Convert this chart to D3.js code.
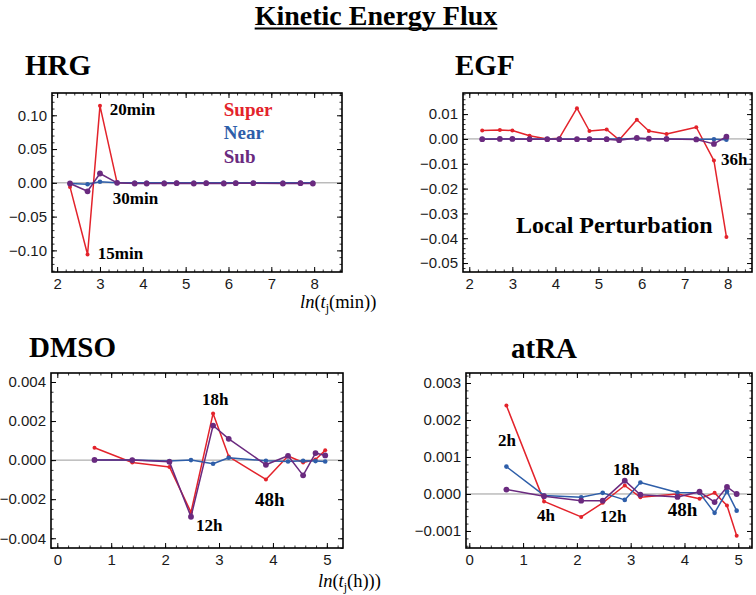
<!DOCTYPE html>
<html><head><meta charset="utf-8">
<script src="https://cdn.jsdelivr.net/npm/d3@7"></script>
<style>body{margin:0;background:#fff} svg{display:block}</style>
</head><body><svg id="c" width="756" height="595"></svg>
<script>
// ---------- DATA ----------
// x positions: ln(t) for time points in minutes (top row) and hours (bottom row)
const xMinutes = [2.30, 2.71, 3.00, 3.40, 3.81, 4.09, 4.50, 4.79, 5.19, 5.48, 5.89, 6.17, 6.58, 7.27, 7.68, 7.97];
const xHours   = [0.69, 1.39, 2.08, 2.48, 2.89, 3.18, 3.87, 4.28, 4.56, 4.79, 4.97];

const hrgSuper = [-0.006, -0.106, 0.114, 0.000, -0.0005, -0.0005, -0.0005, 0.000, -0.0005, -0.0005, -0.0005, -0.0005, -0.0005, -0.0005, -0.0005, -0.0005];
const hrgNear  = [-0.001, -0.002, 0.0015, 0.000, 0.000, 0.000, 0.000, 0.000, 0.000, 0.000, 0.000, 0.000, 0.000, 0.000, 0.000, 0.000];
const hrgSub   = [-0.001, -0.0125, 0.0138, 0.000, -0.001, -0.001, -0.001, -0.0005, -0.001, -0.0005, -0.001, -0.0005, -0.0005, -0.001, -0.0005, -0.001];

const egfSuper = [0.0034, 0.0036, 0.0034, 0.0013, 0.0000, 0.0003, 0.0124, 0.0032, 0.0038, -0.0004, 0.0077, 0.0032, 0.0020, 0.0047, -0.0087, -0.0395];
const egfNear  = [0.0000, 0.0000, 0.0000, 0.0000, 0.0000, 0.0000, 0.0000, 0.0000, 0.0000, 0.0000, 0.0002, 0.0001, 0.0000, -0.0001, -0.0001, -0.0003];
const egfSub   = [-0.0001, 0.0000, 0.0000, -0.0001, -0.0001, -0.0001, -0.0001, -0.0001, -0.0001, -0.0005, 0.0004, 0.0001, 0.0000, -0.0002, -0.0020, 0.0009];

const dmsoSuper = [0.00063, -0.00012, -0.00035, -0.00267, 0.00239, 0.00018, -0.00099, 0.00021, -0.00012, 0.00003, 0.00050];
const dmsoNear  = [0.00000, 0.00000, -0.00005, 0.00000, -0.00019, 0.00012, -0.00003, -0.00007, -0.00003, -0.00005, -0.00007];
const dmsoSub   = [0.00001, 0.00000, -0.00009, -0.00290, 0.00177, 0.00109, -0.00024, 0.00022, -0.00078, 0.00036, 0.00024];

const atraSuper = [0.00239, -0.00020, -0.00062, -0.00024, 0.00023, -0.00009, 0.00000, -0.00013, 0.00003, -0.00031, -0.00113];
const atraNear  = [0.00074, -0.00004, -0.00009, 0.00003, -0.00016, 0.00031, 0.00004, 0.00003, -0.00051, 0.00007, -0.00045];
const atraSub   = [0.00012, -0.00006, -0.00018, -0.00018, 0.00036, -0.00002, -0.00008, 0.00006, -0.00022, 0.00019, 0.00000];

const seriesNames = ["Super", "Near", "Sub"];

// tick labels
const hrgYTicks  = [-0.10, -0.05, 0.00, 0.05, 0.10];
const egfYTicks  = [-0.05, -0.04, -0.03, -0.02, -0.01, 0.00, 0.01];
const dmsoYTicks = [-0.004, -0.002, 0.000, 0.002, 0.004];
const atraYTicks = [-0.001, 0.000, 0.001, 0.002, 0.003];
const minXTicks  = [2, 3, 4, 5, 6, 7, 8];
const hourXTicks = [0, 1, 2, 3, 4, 5];

// annotations (data coordinates)
const hrgNotes  = [{t:"20min", x:3.23, y:0.100}, {t:"30min", x:3.30, y:-0.032}, {t:"15min", x:2.95, y:-0.113}];
const egfNotes  = [{t:"36h", x:7.845, y:-0.0105}];
const dmsoNotes = [{t:"18h", x:2.686, y:0.00281}, {t:"12h", x:2.574, y:-0.00363}, {t:"48h", x:3.669, y:-0.00235, big:true}];
const atraNotes = [{t:"2h", x:0.533, y:0.00129}, {t:"4h", x:1.258, y:-0.00072}, {t:"12h", x:2.429, y:-0.00075}, {t:"18h", x:2.671, y:0.00051}, {t:"48h", x:3.69, y:-0.00059, big:true}];

// ---------- DRAW ----------
const svg = d3.select("#c");
const COL = {Super: "#e3232b", Near: "#2e5ea9", Sub: "#6a2a7f"};
const RAD = {Super: 2.0, Near: 2.3, Sub: 2.9};
const SERIF = "'Liberation Serif','Times New Roman',Times,serif";
const SANS = "'Liberation Sans',Arial,Helvetica,sans-serif";

function panel(cfg) {
  const g = svg.append("g");
  const x = d3.scaleLinear().domain(cfg.xDomain).range([cfg.left, cfg.right]);
  const y = d3.scaleLinear().domain(cfg.yDomain).range([cfg.bottom, cfg.top]);

  // zero axis line
  g.append("line").attr("x1", cfg.left).attr("x2", cfg.right)
    .attr("y1", y(0)).attr("y2", y(0)).attr("stroke", "#9a9a9a").attr("stroke-width", 1);

  // series
  const vals = {Super: cfg.sup, Near: cfg.near, Sub: cfg.sub};
  seriesNames.forEach(n => {
    const pts = cfg.xs.map((xv, i) => [xv, vals[n][i]]);
    g.append("path").attr("d", d3.line().x(d => x(d[0])).y(d => y(d[1]))(pts))
      .attr("fill", "none").attr("stroke", COL[n]).attr("stroke-width", 1.5).attr("stroke-linejoin", "round");
    g.selectAll(null).data(pts).join("circle")
      .attr("cx", d => x(d[0])).attr("cy", d => y(d[1])).attr("r", RAD[n]).attr("fill", COL[n]);
  });

  // minor ticks
  const xr = cfg.xDomain, yr = cfg.yDomain;
  const xMinor = d3.range(Math.ceil(xr[0] / cfg.xMinor) * cfg.xMinor, xr[1], cfg.xMinor);
  const yMinor = d3.range(Math.ceil(yr[0] / cfg.yMinor - 1e-9) * cfg.yMinor, yr[1], cfg.yMinor);
  const axes = [
    [d3.axisBottom(x), cfg.bottom, "x"], [d3.axisTop(x), cfg.top, "x"],
    [d3.axisLeft(y), cfg.left, "y"], [d3.axisRight(y), cfg.right, "y"]
  ];
  axes.forEach(([ax, pos, dim]) => {
    ax.tickValues(dim === "x" ? xMinor : yMinor).tickSize(-2.5).tickFormat("");
    const a = g.append("g").attr("transform", dim === "x" ? `translate(0,${pos})` : `translate(${pos},0)`).call(ax);
    a.select(".domain").remove();
    a.selectAll("line").attr("stroke", "#000").attr("stroke-width", 0.8);
  });
  // major ticks
  const majors = [
    [d3.axisBottom(x).tickValues(cfg.xTicks).tickFormat(d3.format("d")), cfg.bottom, "x", true],
    [d3.axisTop(x).tickValues(cfg.xTicks).tickFormat(""), cfg.top, "x", false],
    [d3.axisLeft(y).tickValues(cfg.yTicks).tickFormat(d3.format(cfg.yFmt)), cfg.left, "y", true],
    [d3.axisRight(y).tickValues(cfg.yTicks).tickFormat(""), cfg.right, "y", false]
  ];
  majors.forEach(([ax, pos, dim, lab]) => {
    ax.tickSize(-5).tickPadding(dim === "x" ? 6 : 5);
    const a = g.append("g").attr("transform", dim === "x" ? `translate(0,${pos})` : `translate(${pos},0)`).call(ax);
    a.select(".domain").remove();
    a.selectAll("line").attr("stroke", "#000").attr("stroke-width", 1);
    a.selectAll("text").attr("font-family", SANS).attr("font-size", 15).attr("fill", "#1a1a1a");
  });

  // frame
  g.append("rect").attr("x", cfg.left).attr("y", cfg.top)
    .attr("width", cfg.right - cfg.left).attr("height", cfg.bottom - cfg.top)
    .attr("fill", "none").attr("stroke", "#000").attr("stroke-width", 1.6);

  // annotations
  cfg.notes.forEach(nt => {
    g.append("text").attr("x", x(nt.x)).attr("y", y(nt.y)).text(nt.t)
      .attr("font-family", SERIF).attr("font-weight", "bold").attr("font-size", nt.big ? 19 : 17).attr("fill", "#000");
  });

  // title
  g.append("text").attr("x", cfg.titleX).attr("y", cfg.titleY).text(cfg.title)
    .attr("font-family", SERIF).attr("font-weight", "bold").attr("font-size", 29).attr("fill", "#000");
  return {g, x, y};
}

const hrg = panel({title: "HRG", titleX: 25, titleY: 75, left: 52, right: 342, top: 93, bottom: 272,
  xDomain: [1.88, 8.65], yDomain: [-0.132, 0.133], xs: xMinutes, sup: hrgSuper, near: hrgNear, sub: hrgSub,
  xTicks: minXTicks, yTicks: hrgYTicks, yFmt: ".2f", xMinor: 0.2, yMinor: 0.01, notes: hrgNotes});

const egf = panel({title: "EGF", titleX: 455, titleY: 75, left: 463, right: 752, top: 93, bottom: 272,
  xDomain: [1.854, 8.564], yDomain: [-0.0536, 0.0185], xs: xMinutes, sup: egfSuper, near: egfNear, sub: egfSub,
  xTicks: minXTicks, yTicks: egfYTicks, yFmt: ".2f", xMinor: 0.2, yMinor: 0.002, notes: egfNotes});

const dmso = panel({title: "DMSO", titleX: 29, titleY: 357, left: 51, right: 343, top: 373, bottom: 548,
  xDomain: [-0.117, 5.3], yDomain: [-0.0045, 0.00446], xs: xHours, sup: dmsoSuper, near: dmsoNear, sub: dmsoSub,
  xTicks: hourXTicks, yTicks: dmsoYTicks, yFmt: ".3f", xMinor: 0.2, yMinor: 0.0005, notes: dmsoNotes});

const atra = panel({title: "atRA", titleX: 511, titleY: 358, left: 466, right: 752, top: 373, bottom: 548,
  xDomain: [-0.061, 5.255], yDomain: [-0.00146, 0.00327], xs: xHours, sup: atraSuper, near: atraNear, sub: atraSub,
  xTicks: hourXTicks, yTicks: atraYTicks, yFmt: ".3f", xMinor: 0.2, yMinor: 0.0002, notes: atraNotes});

// legend in HRG panel
const legendY = [0.099, 0.065, 0.029];
seriesNames.forEach((n, i) => {
  hrg.g.append("text").attr("x", hrg.x(5.89)).attr("y", hrg.y(legendY[i])).text(n)
    .attr("font-family", SERIF).attr("font-weight", "bold").attr("font-size", 19).attr("fill", COL[n]);
});

// Local Perturbation
egf.g.append("text").attr("x", egf.x(3.085)).attr("y", egf.y(-0.0379)).text("Local Perturbation")
  .attr("font-family", SERIF).attr("font-weight", "bold").attr("font-size", 24).attr("fill", "#000");

// axis labels
function axisLabel(xp, yp, unit) {
  const t = svg.append("text").attr("x", xp).attr("y", yp)
    .attr("font-family", SERIF).attr("font-size", 18.5).attr("fill", "#000");
  t.append("tspan").attr("font-style", "italic").text("ln");
  t.append("tspan").text("(");
  t.append("tspan").attr("font-style", "italic").text("t");
  t.append("tspan").attr("font-size", 12).attr("dy", 4).text("j");
  t.append("tspan").attr("dy", -4).text(unit);
}
axisLabel(300, 308, "(min))");
axisLabel(318, 587, "(h)))");

// main title
const title = svg.append("text").attr("x", 376).attr("y", 25).attr("text-anchor", "middle")
  .attr("font-family", SERIF).attr("font-weight", "bold").attr("font-size", 28).attr("fill", "#000")
  .text("Kinetic Energy Flux");
const bb = title.node().getBBox();
svg.append("line").attr("x1", bb.x).attr("x2", bb.x + bb.width).attr("y1", 28.5).attr("y2", 28.5)
  .attr("stroke", "#000").attr("stroke-width", 2);
</script>
</body></html>
